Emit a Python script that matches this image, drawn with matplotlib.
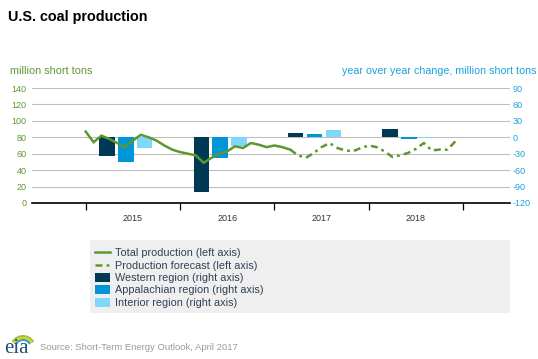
import numpy as np
import matplotlib
matplotlib.use('Agg')
import matplotlib.pyplot as plt
from matplotlib.lines import Line2D
from matplotlib.patches import Patch, Rectangle, Arc

plt.rcParams['font.family'] = ['Liberation Sans', 'DejaVu Sans']
plt.rcParams['lines.scale_dashes'] = False
plt.rcParams['axes.unicode_minus'] = False

green = '#5D9732'
blue_txt = '#1BA1DC'
c_west = '#003953'
c_app = '#0096D7'
c_int = '#7FD8FA'

# monthly total production, Jan 2015 - Mar 2017 (million short tons)
hist = [87, 74, 82, 78, 73, 68, 76, 83, 80, 76, 70, 65,
        62, 60, 58, 49, 55, 60, 63, 69, 67, 73, 71, 68,
        70, 68, 65]
# forecast, Mar 2017 - Dec 2018
fcst = [65, 58, 55, 61, 68, 73, 67, 64, 63, 67,
        70, 68, 63, 56, 58, 61, 66, 73, 64, 65, 65, 75]

years = [2015, 2016, 2017, 2018]
western = [-35, -99, 7, 16]
appalachian = [-46, -38, 6, -4]
interior = [-20, -16, 13, -1]

x_hist = 2015 + np.arange(len(hist)) / 12
x_fcst = 2017 + (2 + np.arange(len(fcst))) / 12

fig = plt.figure(figsize=(5.38, 3.59), dpi=100)
ax = fig.add_axes([32/538, 1-203/359, (510-32)/538, (203-88)/359])
bx = ax.twinx()

# bars on right axis
yr = np.array(years)
w = 0.165
bx.bar(yr + 0.225, western, w, color=c_west, zorder=2)
bx.bar(yr + 0.425, appalachian, w, color=c_app, zorder=2)
bx.bar(yr + 0.625, interior, w, color=c_int, zorder=2)
bx.set_ylim(-120, 90)
bx.set_yticks(np.arange(-120, 91, 30))

# lines on left axis, drawn above bars
ax.set_zorder(bx.get_zorder() + 1)
ax.patch.set_visible(False)
ax.plot(x_hist, hist, color=green, lw=1.8, solid_joinstyle='miter')
ax.plot(x_fcst, fcst, color=green, lw=1.8, dashes=(5, 3, 2, 3))
ax.set_ylim(0, 140)
ax.set_yticks(np.arange(0, 141, 20))
ax.set_xlim(2014.431, 2019.496)

for y in range(20, 141, 20):
    bx.axhline(y * 1.5 - 120, color='#BFBFBF', lw=0.8, zorder=0)
ax.axhline(0, color='black', lw=1.2, clip_on=False)

for a in (ax, bx):
    for s in a.spines.values():
        s.set_visible(False)

ax.set_xticks([2015, 2016, 2017, 2018, 2019])
ax.set_xticklabels([])
ax.set_xticks([y + 0.5 for y in years], minor=True)
ax.set_xticklabels([str(y) for y in years], minor=True)
ax.tick_params(axis='x', which='major', length=5, width=0.9, color='black', direction='out')
ax.tick_params(axis='x', which='minor', length=0, labelsize=6.5, pad=8, labelcolor='#333333')
ax.tick_params(axis='y', length=0, labelsize=6.5, labelcolor=green, pad=4)
bx.tick_params(axis='y', length=0, labelsize=6.5, labelcolor=blue_txt, pad=2)

# texts
fig.text(8/538, 1-17/359, 'U.S. coal production', fontsize=10.4, fontweight='bold',
         va='center', ha='left', color='black')
fig.text(10/538, 1-71/359, 'million short tons', fontsize=7.8, color=green, va='center')
fig.text(536/538, 1-71/359, 'year over year change, million short tons', fontsize=7.7,
         color=blue_txt, va='center', ha='right')
fig.text(40/538, 1-347/359, 'Source: Short-Term Energy Outlook, April 2017', fontsize=6.8,
         color='#9A9A9A', va='center')

# legend with gray panel
fig.patches.append(Rectangle((90/538, 1-313/359), (510-90)/538, (313-240)/359,
                             transform=fig.transFigure, facecolor='#EFEFEF',
                             edgecolor='none', zorder=0))
handles = [Line2D([], [], color=green, lw=1.8),
           Line2D([], [], color=green, lw=1.8, dashes=(5, 3, 2, 3)),
           Patch(facecolor=c_west), Patch(facecolor=c_app), Patch(facecolor=c_int)]
labels = ['Total production (left axis)', 'Production forecast (left axis)',
          'Western region (right axis)', 'Appalachian region (right axis)',
          'Interior region (right axis)']
leg = fig.legend(handles, labels, loc='upper left', bbox_to_anchor=(95/538, 1-248/359),
                 frameon=False, fontsize=7.8, handlelength=1.4, handleheight=0.9,
                 handletextpad=0.45, labelspacing=0.2, borderpad=0, borderaxespad=0)
for t in leg.get_texts():
    t.set_color('#2E4057')

# eia logo, axes laid out in pixel units
lg = fig.add_axes([0, 0, 40/538, 39/359])
lg.set_xlim(0, 40)
lg.set_ylim(0, 39)
lg.axis('off')
lg.text(4, 6, 'eia', family=['Liberation Serif', 'DejaVu Serif'], fontsize=15,
        color='#1F4E79', va='baseline')
for r, c in zip([12, 10, 8], ['#8DC63F', '#F2C500', '#1BA1DC']):
    lg.add_patch(Arc((23, 11), 2 * r, 2 * r, theta1=30, theta2=150, color=c, lw=1.4))

fig.savefig('out.png', dpi=100)
